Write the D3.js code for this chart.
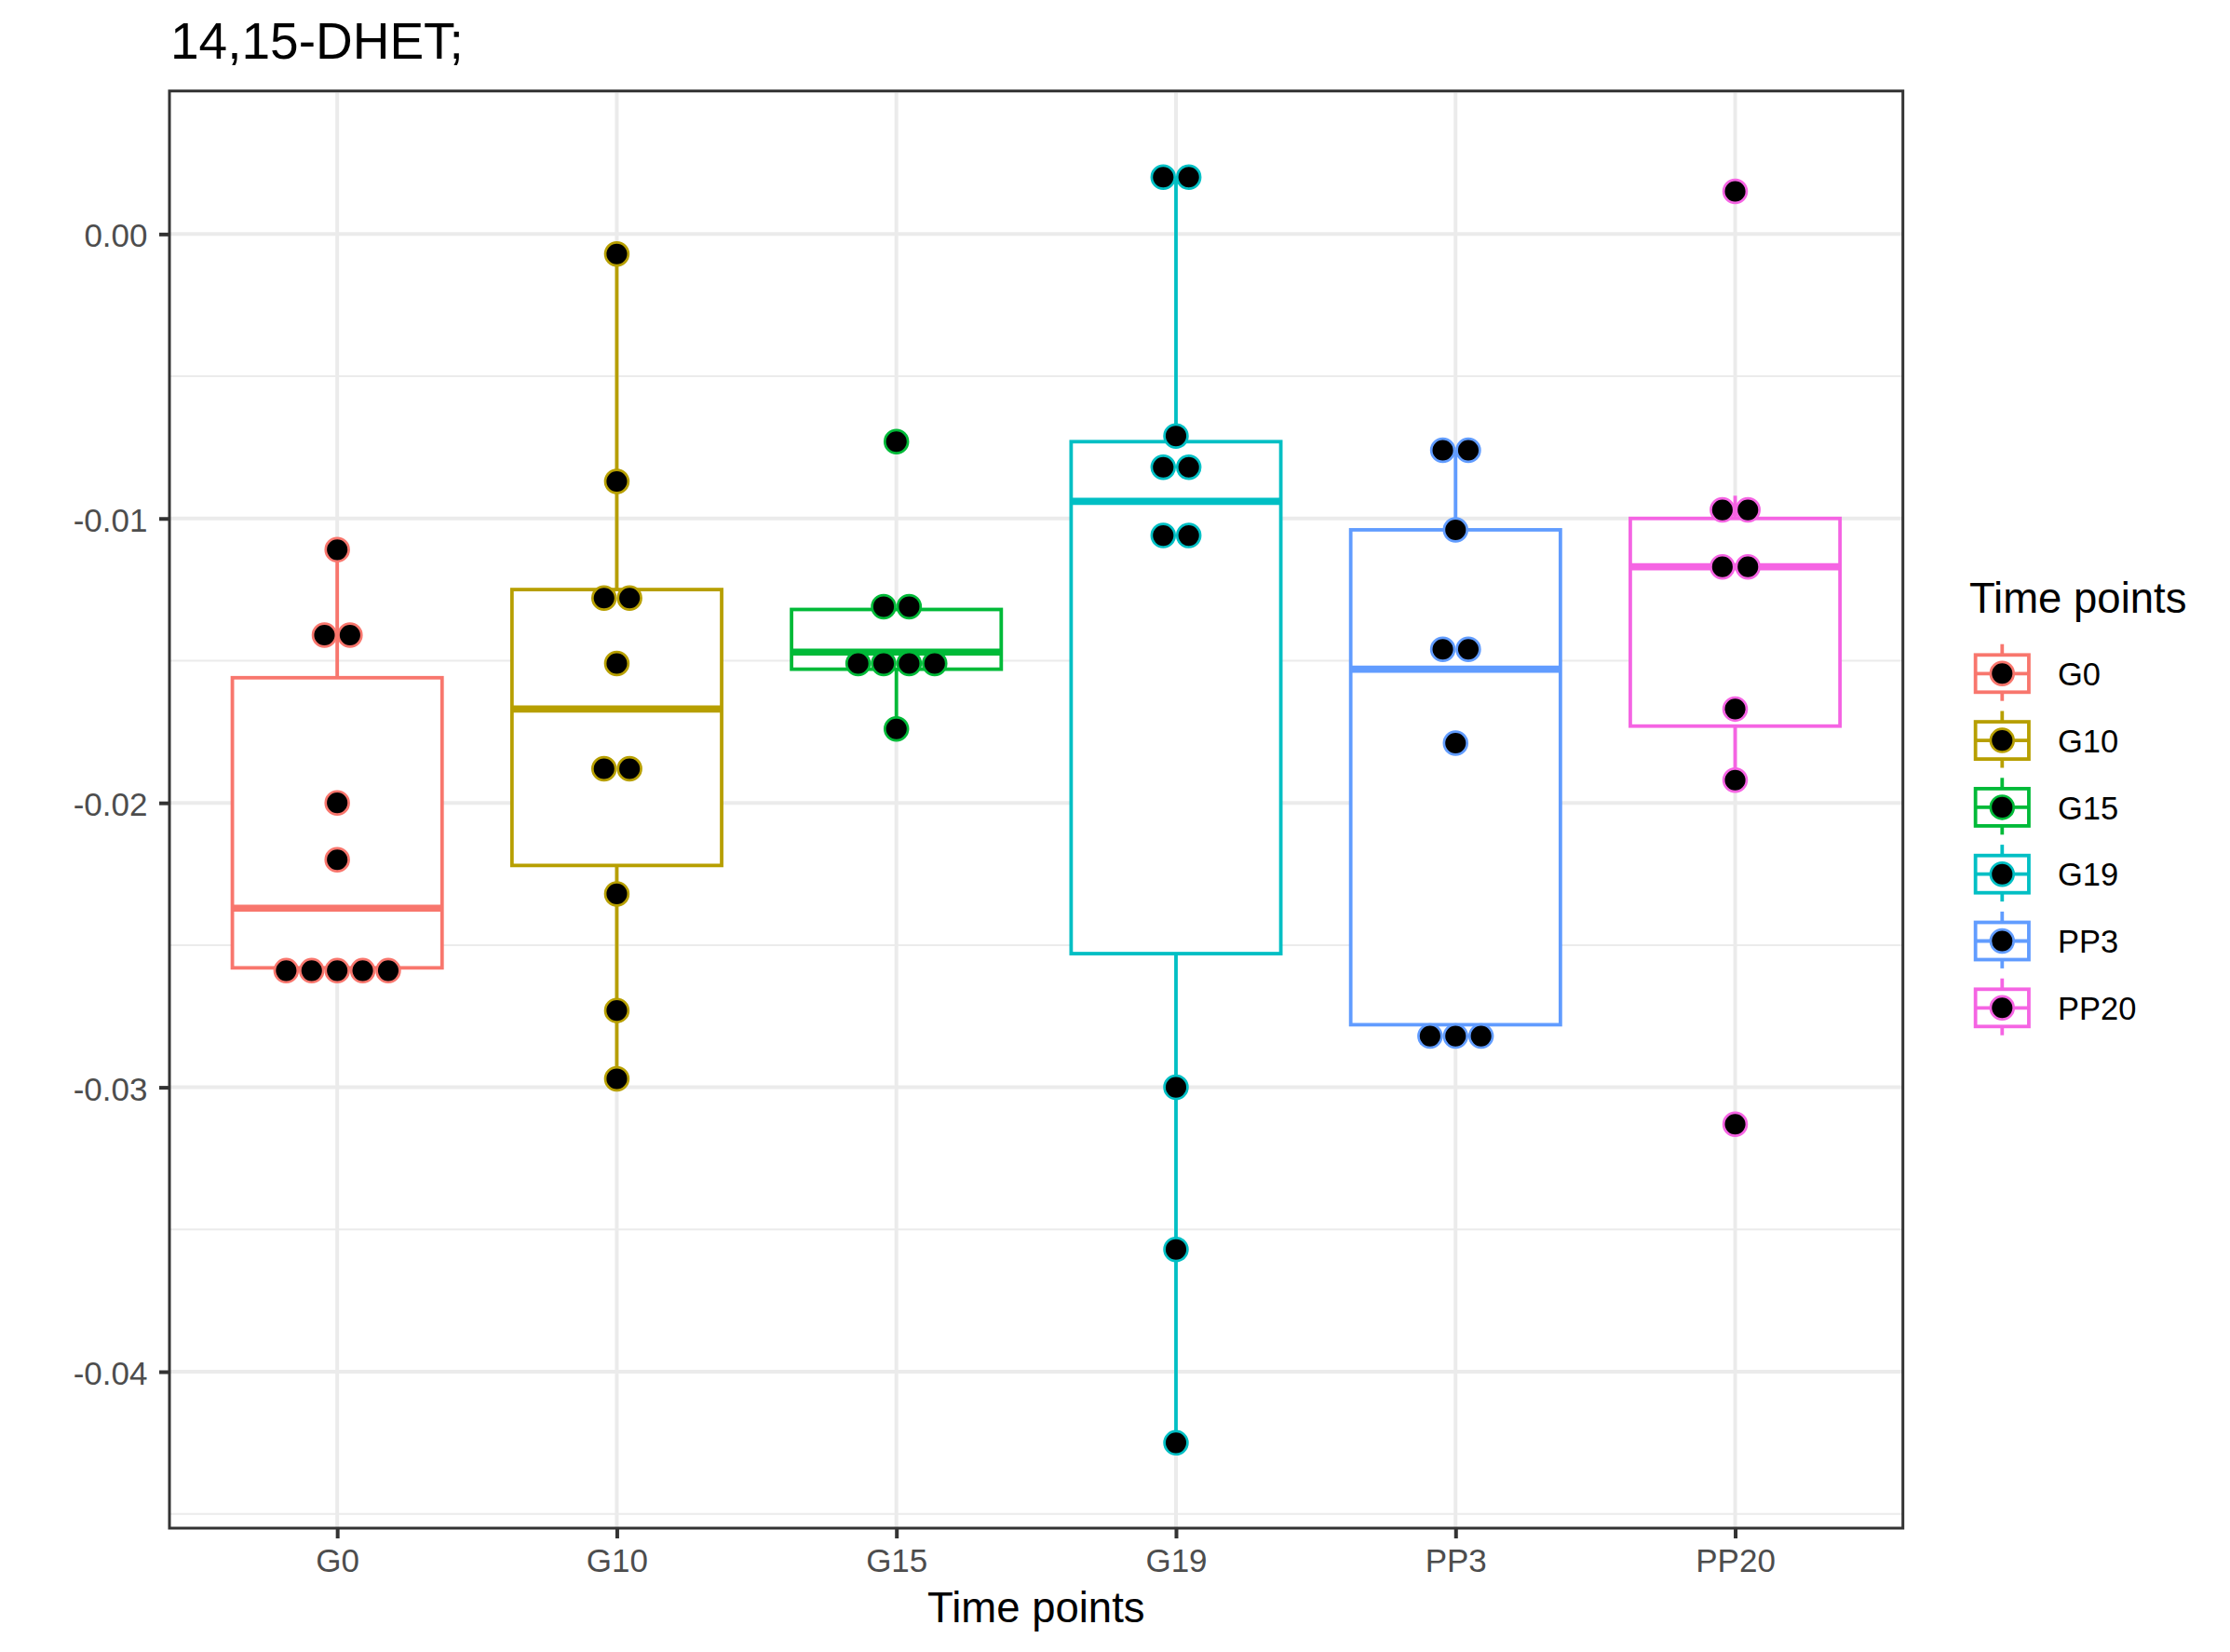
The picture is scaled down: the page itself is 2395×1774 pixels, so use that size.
<!DOCTYPE html>
<html>
<head>
<meta charset="utf-8">
<script src="https://cdn.jsdelivr.net/npm/d3@7"></script>
<style>
  html, body { margin: 0; padding: 0; background: #ffffff; }
  svg { display: block; }
  text { font-family: "Liberation Sans", Arial, Helvetica, sans-serif; }
</style>
</head>
<body>
<svg id="chart" width="2395" height="1774"></svg>
<script>
// ---------------- data ----------------
const categories = ["G0", "G10", "G15", "G19", "PP3", "PP20"];
const colors = ["#F8766D", "#B79F00", "#00BA38", "#00BFC4", "#619CFF", "#F564E3"];

// box statistics
const whiskerLow  = [-0.0259, -0.0297, -0.0174, -0.0425, -0.0282, -0.0192];
const q1          = [-0.0258, -0.0222, -0.0153, -0.0253, -0.0278, -0.0173];
const medians     = [-0.0237, -0.0167, -0.0147, -0.0094, -0.0153, -0.0117];
const q3          = [-0.0156, -0.0125, -0.0132, -0.0073, -0.0104, -0.0100];
const whiskerHigh = [-0.0111, -0.0007, -0.0132,  0.0020, -0.0076, -0.0092];

// dot positions (binned dotplot values)
const dotsG0   = [-0.0111, -0.0141, -0.0141, -0.0200, -0.0220, -0.0259, -0.0259, -0.0259, -0.0259, -0.0259];
const dotsG10  = [-0.0007, -0.0087, -0.0128, -0.0128, -0.0151, -0.0188, -0.0188, -0.0232, -0.0273, -0.0297];
const dotsG15  = [-0.0073, -0.0131, -0.0131, -0.0151, -0.0151, -0.0151, -0.0151, -0.0174];
const dotsG19  = [0.0020, 0.0020, -0.0071, -0.0082, -0.0082, -0.0106, -0.0106, -0.0300, -0.0357, -0.0425];
const dotsPP3  = [-0.0076, -0.0076, -0.0104, -0.0146, -0.0146, -0.0179, -0.0282, -0.0282, -0.0282];
const dotsPP20 = [0.0015, -0.0097, -0.0097, -0.0117, -0.0117, -0.0167, -0.0192, -0.0313];
const dotSets = [dotsG0, dotsG10, dotsG15, dotsG19, dotsPP3, dotsPP20];

const yMajorTicks = [0.00, -0.01, -0.02, -0.03, -0.04];
const yMinorTicks = [0.005, -0.005, -0.015, -0.025, -0.035, -0.045];

const titleText = "14,15-DHET;";
const xTitle = "Time points";
const legendTitle = "Time points";

// ---------------- layout ----------------
const panel = { left: 182, right: 2043.7, top: 97.7, bottom: 1641 };
const svg = d3.select("#chart");
svg.append("rect").attr("width", 2395).attr("height", 1774).attr("fill", "#ffffff");

const x = d3.scalePoint().domain(categories).range([panel.left, panel.right]).padding(0.6);
const y = d3.scaleLinear().domain([-0.0455, 0.00503]).range([panel.bottom, panel.top]);
const color = d3.scaleOrdinal().domain(categories).range(colors);

const boxW = x.step() * 0.75;
const dotStep = 27.4;
const dotR = 12.4;
const dotStroke = 2.7;
const lineW = 3.8;

const g = svg.append("g");
const clipId = "panelclip";
svg.append("defs").append("clipPath").attr("id", clipId)
  .append("rect").attr("x", panel.left).attr("y", panel.top)
  .attr("width", panel.right - panel.left).attr("height", panel.bottom - panel.top);

const plot = g.append("g").attr("clip-path", `url(#${clipId})`);

// grid
plot.selectAll(".ymin").data(yMinorTicks).join("line")
  .attr("x1", panel.left).attr("x2", panel.right)
  .attr("y1", d => y(d)).attr("y2", d => y(d))
  .attr("stroke", "#EBEBEB").attr("stroke-width", 2);
plot.selectAll(".ymaj").data(yMajorTicks).join("line")
  .attr("x1", panel.left).attr("x2", panel.right)
  .attr("y1", d => y(d)).attr("y2", d => y(d))
  .attr("stroke", "#EBEBEB").attr("stroke-width", 4);
plot.selectAll(".xmaj").data(categories).join("line")
  .attr("x1", d => x(d)).attr("x2", d => x(d))
  .attr("y1", panel.top).attr("y2", panel.bottom)
  .attr("stroke", "#EBEBEB").attr("stroke-width", 4);

// boxes
const stats = categories.map((c, i) => ({
  cat: c, lo: whiskerLow[i], q1: q1[i], med: medians[i], q3: q3[i], hi: whiskerHigh[i]
}));
const boxes = plot.selectAll(".box").data(stats).join("g");
boxes.append("line")
  .attr("x1", d => x(d.cat)).attr("x2", d => x(d.cat))
  .attr("y1", d => y(d.hi)).attr("y2", d => y(d.q3))
  .attr("stroke", d => color(d.cat)).attr("stroke-width", lineW);
boxes.append("line")
  .attr("x1", d => x(d.cat)).attr("x2", d => x(d.cat))
  .attr("y1", d => y(d.q1)).attr("y2", d => y(d.lo))
  .attr("stroke", d => color(d.cat)).attr("stroke-width", lineW);
boxes.append("rect")
  .attr("x", d => x(d.cat) - boxW / 2).attr("width", boxW)
  .attr("y", d => y(d.q3)).attr("height", d => y(d.q1) - y(d.q3))
  .attr("fill", "#ffffff").attr("stroke", d => color(d.cat)).attr("stroke-width", lineW);
boxes.append("line")
  .attr("x1", d => x(d.cat) - boxW / 2).attr("x2", d => x(d.cat) + boxW / 2)
  .attr("y1", d => y(d.med)).attr("y2", d => y(d.med))
  .attr("stroke", d => color(d.cat)).attr("stroke-width", lineW * 2);

// dots (centred stacks)
const dots = [];
dotSets.forEach((vals, i) => {
  const groups = d3.groups(vals, v => v);
  groups.forEach(([v, arr]) => {
    const n = arr.length;
    arr.forEach((_, k) => dots.push({ cat: categories[i], v: v, off: (k - (n - 1) / 2) * dotStep }));
  });
});
plot.selectAll(".dot").data(dots).join("circle")
  .attr("cx", d => x(d.cat) + d.off).attr("cy", d => y(d.v)).attr("r", dotR)
  .attr("fill", "#000000").attr("stroke", d => color(d.cat)).attr("stroke-width", dotStroke);

// panel border
g.append("rect")
  .attr("x", panel.left).attr("y", panel.top)
  .attr("width", panel.right - panel.left).attr("height", panel.bottom - panel.top)
  .attr("fill", "none").attr("stroke", "#333333").attr("stroke-width", 3);

// axes
const fmt = d => d3.format(".2f")(d).replace("\u2212", "-");
const yAxis = g.append("g").attr("transform", `translate(${panel.left},0)`)
  .call(d3.axisLeft(y).tickValues(yMajorTicks).tickFormat(fmt).tickSize(11).tickPadding(12.5));
yAxis.select(".domain").remove();
yAxis.selectAll(".tick line").attr("stroke", "#333333").attr("stroke-width", 4);
yAxis.selectAll(".tick text").attr("fill", "#4D4D4D").attr("font-size", 35)
  .attr("dy", "0.39em").style("font-family", "'Liberation Sans', Arial, sans-serif");

const xAxis = g.append("g").attr("transform", `translate(0,${panel.bottom})`)
  .call(d3.axisBottom(x).tickSize(11).tickPadding(10));
xAxis.select(".domain").remove();
xAxis.selectAll(".tick line").attr("stroke", "#333333").attr("stroke-width", 4);
xAxis.selectAll(".tick text").attr("fill", "#4D4D4D").attr("font-size", 35)
  .attr("y", 47.3).attr("dy", null).style("font-family", "'Liberation Sans', Arial, sans-serif");

// titles
svg.append("text").attr("x", 183).attr("y", 62.7)
  .attr("font-size", 55).attr("fill", "#000").text(titleText);
svg.append("text").attr("x", (panel.left + panel.right) / 2).attr("y", 1741.7)
  .attr("text-anchor", "middle").attr("font-size", 45.5).attr("fill", "#000").text(xTitle);

// legend
const lg = svg.append("g");
lg.append("text").attr("x", 2115).attr("y", 657.5).attr("font-size", 45.5).attr("fill", "#000").text(legendTitle);
const keyCx = 2150.3, keyW = 57.3, keyBoxH = 40, keyStep = 71.8, key0 = 723.3;
const items = lg.selectAll(".item").data(categories).join("g")
  .attr("transform", (d, i) => `translate(${keyCx},${key0 + i * keyStep})`);
items.append("line").attr("x1", 0).attr("x2", 0).attr("y1", -31.6).attr("y2", 29.4)
  .attr("stroke", d => color(d)).attr("stroke-width", lineW);
items.append("rect").attr("x", -keyW / 2).attr("y", -keyBoxH / 2).attr("width", keyW).attr("height", keyBoxH)
  .attr("fill", "#fff").attr("stroke", d => color(d)).attr("stroke-width", lineW);
items.append("line").attr("x1", -keyW / 2).attr("x2", keyW / 2).attr("y1", 0).attr("y2", 0)
  .attr("stroke", d => color(d)).attr("stroke-width", lineW);
items.append("circle").attr("r", dotR).attr("fill", "#000").attr("stroke", d => color(d)).attr("stroke-width", dotStroke);
items.append("text").attr("x", 2210 - keyCx).attr("y", 12.7).attr("font-size", 34.5).attr("fill", "#000").text(d => d);
</script>
</body>
</html>
